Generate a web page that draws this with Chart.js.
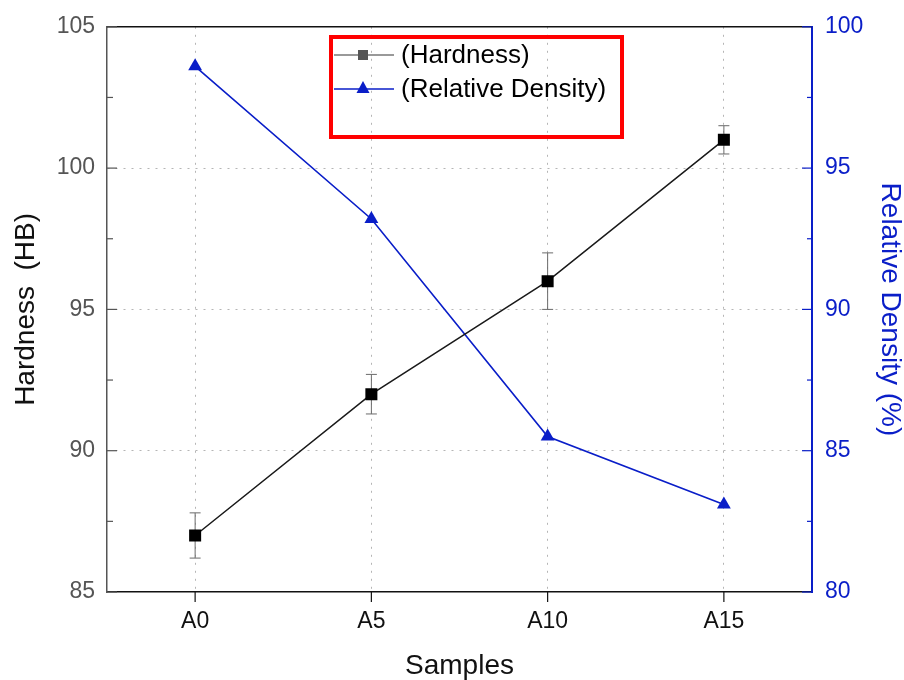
<!DOCTYPE html>
<html lang="en">
<head>
<meta charset="UTF-8">
<title>Hardness and Relative Density</title>
<script src="https://cdn.jsdelivr.net/npm/chart.js@4.4.1/dist/chart.umd.min.js"></script>
<style>
  body { margin: 0; background: #fff; }
  #wrap { width: 904px; height: 680px; position: relative; }
</style>
</head>
<body>
<div id="wrap"><canvas id="chart"></canvas></div>
<script>
// data
const samples = ['A0', 'A5', 'A10', 'A15'];
const hardness = [87, 92, 96, 101];
const hardnessErr = [0.8, 0.7, 1.0, 0.5];
const density = [98.6, 93.2, 85.5, 83.1];
const hardnessRange = [85, 105];
const densityRange = [80, 100];
const tickStep = 5;

const FONT = "'Liberation Sans', Arial, sans-serif";
const BLUE = '#0a1ec8';
const dotted = [2, 6];

// error bars behind the hardness squares
const errorBars = {
  id: 'errorBars',
  beforeDatasetsDraw(chart) {
    const { ctx, scales } = chart;
    const meta = chart.getDatasetMeta(0);
    ctx.save();
    ctx.strokeStyle = '#6a6a6a';
    ctx.lineWidth = 1;
    meta.data.forEach((pt, i) => {
      const yTop = scales.y.getPixelForValue(hardness[i] + hardnessErr[i]);
      const yBot = scales.y.getPixelForValue(hardness[i] - hardnessErr[i]);
      const x = pt.x;
      ctx.beginPath();
      ctx.moveTo(x, yTop); ctx.lineTo(x, yBot);
      ctx.moveTo(x - 5.5, yTop); ctx.lineTo(x + 5.5, yTop);
      ctx.moveTo(x - 5.5, yBot); ctx.lineTo(x + 5.5, yBot);
      ctx.stroke();
    });
    ctx.restore();
  }
};

// top border, inward ticks, minor ticks, outward bottom ticks, boxed legend
const frame = {
  id: 'frame',
  afterDraw(chart) {
    const { ctx, chartArea: a, scales } = chart;
    ctx.save();
    ctx.lineWidth = 1.5;
    ctx.strokeStyle = '#111';
    ctx.beginPath();
    ctx.moveTo(a.left, a.top); ctx.lineTo(a.right, a.top);
    ctx.stroke();

    // left axis ticks (inward)
    ctx.strokeStyle = '#555';
    ctx.lineWidth = 1.2;
    for (let v = hardnessRange[0]; v <= hardnessRange[1]; v += tickStep / 2) {
      const y = scales.y.getPixelForValue(v);
      const len = (v % tickStep === 0) ? 10 : 6;
      ctx.beginPath(); ctx.moveTo(a.left, y); ctx.lineTo(a.left + len, y); ctx.stroke();
    }
    // right axis ticks (inward)
    ctx.strokeStyle = BLUE;
    for (let v = densityRange[0]; v <= densityRange[1]; v += tickStep / 2) {
      const y = scales.y1.getPixelForValue(v);
      const len = (v % tickStep === 0) ? 10 : 5;
      ctx.beginPath(); ctx.moveTo(a.right, y); ctx.lineTo(a.right - len, y); ctx.stroke();
    }
    // bottom ticks (outward)
    ctx.strokeStyle = '#111';
    samples.forEach((s, i) => {
      const x = scales.x.getPixelForValue(i);
      ctx.beginPath(); ctx.moveTo(x, a.bottom); ctx.lineTo(x, a.bottom + 10); ctx.stroke();
    });

    // legend box
    ctx.strokeStyle = '#ff0000';
    ctx.lineWidth = 4;
    ctx.strokeRect(331, 37, 291, 100);
    const rows = [
      { y: 55, line: '#777', fill: '#555', shape: 'rect' },
      { y: 89, line: BLUE, fill: BLUE, shape: 'tri' }
    ];
    ctx.font = '26px ' + FONT;
    ctx.textBaseline = 'middle';
    ctx.fillStyle = '#000';
    rows.forEach((r, i) => {
      ctx.strokeStyle = r.line;
      ctx.lineWidth = 1.5;
      ctx.beginPath(); ctx.moveTo(334, r.y); ctx.lineTo(394, r.y); ctx.stroke();
      ctx.fillStyle = r.fill;
      if (r.shape === 'rect') {
        ctx.fillRect(358, r.y - 5, 10, 10);
      } else {
        ctx.beginPath();
        ctx.moveTo(363, r.y - 8); ctx.lineTo(369.5, r.y + 4); ctx.lineTo(356.5, r.y + 4);
        ctx.closePath(); ctx.fill();
      }
      ctx.fillStyle = '#000';
      ctx.fillText(chart.data.datasets[i].label, 401, r.y + 1);
    });
    ctx.restore();
  }
};

new Chart(document.getElementById('chart'), {
  type: 'line',
  data: {
    labels: samples,
    datasets: [
      {
        label: '(Hardness)',
        data: hardness,
        yAxisID: 'y',
        borderColor: '#1a1a1a',
        borderWidth: 1.5,
        pointStyle: 'rect',
        pointRadius: 8.5,
        pointBackgroundColor: '#000',
        pointBorderColor: '#000',
        pointBorderWidth: 0,
        tension: 0
      },
      {
        label: '(Relative Density)',
        data: density,
        yAxisID: 'y1',
        borderColor: BLUE,
        borderWidth: 1.6,
        pointStyle: 'triangle',
        pointRadius: 8,
        pointBackgroundColor: BLUE,
        pointBorderColor: BLUE,
        pointBorderWidth: 0,
        tension: 0
      }
    ]
  },
  options: {
    responsive: true,
    maintainAspectRatio: false,
    animation: false,
    events: [],
    layout: { padding: { top: 25, left: 0, right: 0, bottom: 0 } },
    plugins: { legend: { display: false }, tooltip: { enabled: false } },
    scales: {
      x: {
        type: 'category',
        offset: true,
        afterFit(scale) { scale.height = 88; },
        grid: { color: '#b5b5b5', lineWidth: 1, drawTicks: false, offset: false },
        border: { color: '#111', width: 1.5, dash: dotted },
        ticks: { color: '#111', padding: 16, font: { family: FONT, size: 23 } },
        title: {
          display: true, text: 'Samples', color: '#111',
          font: { family: FONT, size: 28, lineHeight: 1 }, padding: { top: 0, bottom: 0 }
        }
      },
      y: {
        position: 'left',
        min: hardnessRange[0], max: hardnessRange[1],
        afterFit(scale) { scale.width = 107; },
        grid: {
          color: ctx => (ctx.tick && (ctx.tick.value === hardnessRange[0] || ctx.tick.value === hardnessRange[1])) ? 'rgba(0,0,0,0)' : '#b5b5b5',
          lineWidth: 1, drawTicks: false
        },
        border: { color: '#555', width: 1.5, dash: dotted },
        ticks: { stepSize: tickStep, color: '#555', padding: 12, font: { family: FONT, size: 23 } },
        title: {
          display: true, text: 'Hardness  (HB)', color: '#111',
          font: { family: FONT, size: 28, lineHeight: 1 }, padding: { top: 12, bottom: 0 }
        }
      },
      y1: {
        position: 'right',
        min: densityRange[0], max: densityRange[1],
        afterFit(scale) { scale.width = 92; },
        grid: { drawOnChartArea: false, drawTicks: false },
        border: { color: BLUE, width: 2 },
        ticks: { stepSize: tickStep, color: BLUE, padding: 13, font: { family: FONT, size: 23 } },
        title: {
          display: true, text: 'Relative Density (%)', color: BLUE,
          font: { family: FONT, size: 28, lineHeight: 1 }, padding: { top: 0, bottom: 0 }
        }
      }
    }
  },
  plugins: [errorBars, frame]
});
</script>
</body>
</html>
